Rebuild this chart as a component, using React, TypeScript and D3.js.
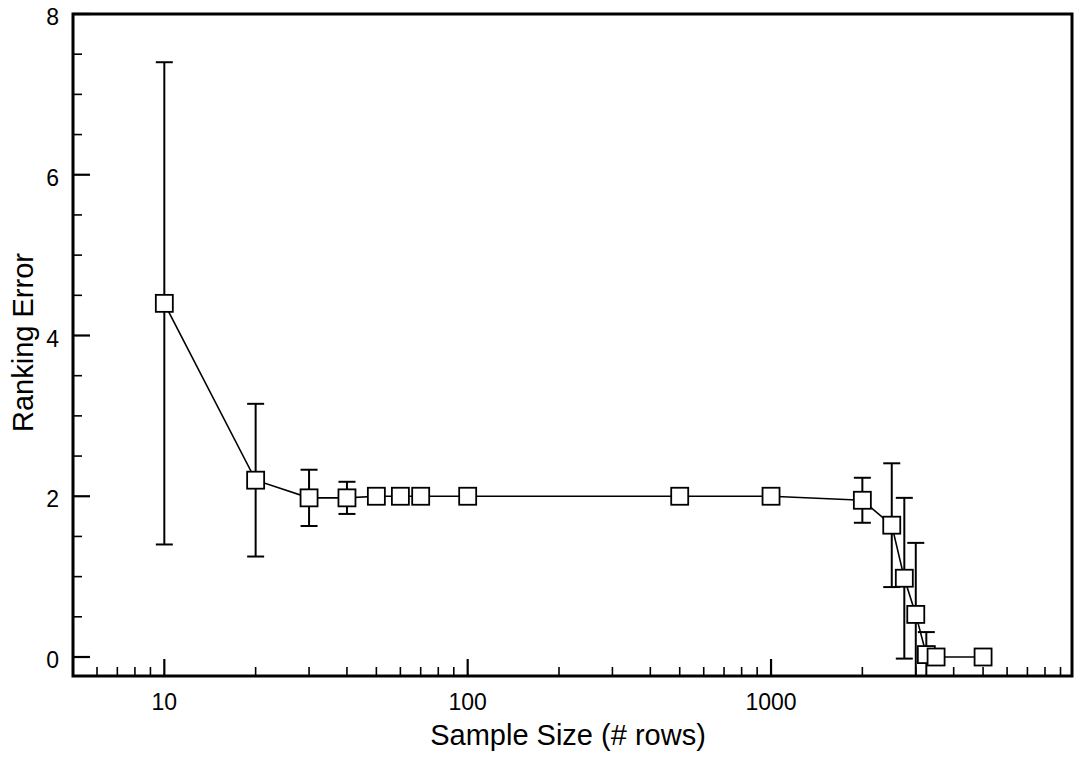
import React from "react";
import * as d3 from "d3";

const sampleSizes = [10, 20, 30, 40, 50, 60, 70, 100, 500, 1000, 2000, 2500, 2750, 3000, 3250, 3500, 5000];
const rankingError = [4.4, 2.2, 1.98, 1.98, 2.0, 2.0, 2.0, 2.0, 2.0, 2.0, 1.95, 1.64, 0.98, 0.53, 0.03, 0.0, 0.0];
const errorHalf = [3.0, 0.95, 0.35, 0.2, 0, 0, 0, 0, 0, 0, 0.28, 0.77, 1.0, 0.89, 0.28, 0, 0];
const xMajorTicks = [10, 100, 1000];
const yMajorTicks = [0, 2, 4, 6, 8];
const xDomain = [5, 9820];
const yDomain = [0, 8];

const W = 1079;
const H = 757;
const left = 73, right = 1072, top = 14, bottom = 676;
const FONT = "'Liberation Sans', Arial, Helvetica, sans-serif";

export default function App() {
  const x = d3.scaleLog().domain(xDomain).range([left, right]);
  const y = d3.scaleLinear().domain(yDomain).range([657, 14]);

  const xMinor: number[] = [];
  for (let dec = 1; dec <= 1000; dec *= 10) {
    for (let k = 1; k <= 9; k++) {
      const v = k * dec;
      if (v > xDomain[0] && v < xDomain[1] && !xMajorTicks.includes(v)) xMinor.push(v);
    }
  }
  const yMinor = d3.range(0.5, 8, 0.5).filter((v) => !yMajorTicks.includes(v));

  const pts = sampleSizes.map((s, i) => ({ s, v: rankingError[i], e: errorHalf[i] }));
  const line = d3.line<{ s: number; v: number }>().x((d) => x(d.s)).y((d) => y(d.v));
  const sq = 17;
  const cap = 17;

  return (
    <svg width={W} height={H} style={{ position: "absolute", left: 0, top: 0, background: "#fff" }}>
      <defs>
        <clipPath id="plotClip">
          <rect x={left} y={top} width={right - left} height={bottom - top} />
        </clipPath>
      </defs>
      <rect x={0} y={0} width={W} height={H} fill="#fff" />
      {/* x ticks */}
      {xMajorTicks.map((t) => (
        <line key={"xM" + t} x1={x(t)} x2={x(t)} y1={bottom} y2={bottom - 17} stroke="#000" strokeWidth={2.2} />
      ))}
      {xMinor.map((t) => (
        <line key={"xm" + t} x1={x(t)} x2={x(t)} y1={bottom} y2={bottom - 9} stroke="#000" strokeWidth={1.6} />
      ))}
      {yMajorTicks.map((t) => (
        <line key={"yM" + t} x1={left} x2={left + 17} y1={y(t)} y2={y(t)} stroke="#000" strokeWidth={2.2} />
      ))}
      {yMinor.map((t) => (
        <line key={"ym" + t} x1={left} x2={left + 9} y1={y(t)} y2={y(t)} stroke="#000" strokeWidth={1.6} />
      ))}
      {/* tick labels */}
      {xMajorTicks.map((t) => (
        <text key={"xl" + t} x={x(t)} y={709.5} textAnchor="middle" fontFamily={FONT} fontSize={23} fill="#000">
          {t}
        </text>
      ))}
      {yMajorTicks.map((t) => (
        <text key={"yl" + t} x={59} y={y(t) + 11} textAnchor="end" fontFamily={FONT} fontSize={23} fill="#000">
          {t}
        </text>
      ))}
      {/* data */}
      <g clipPath="url(#plotClip)">
        {pts.filter((d) => d.e > 0).map((d) => {
          const cx = x(d.s);
          const y1 = y(d.v + d.e);
          const y2 = y(d.v - d.e);
          return (
            <g key={"e" + d.s} stroke="#000" strokeWidth={2}>
              <line x1={cx} x2={cx} y1={y1} y2={y2} />
              <line x1={cx - cap / 2} x2={cx + cap / 2} y1={y1} y2={y1} />
              <line x1={cx - cap / 2} x2={cx + cap / 2} y1={y2} y2={y2} />
            </g>
          );
        })}
        <path d={line(pts) || ""} fill="none" stroke="#000" strokeWidth={1.6} />
        {pts.map((d) => (
          <rect
            key={"p" + d.s}
            x={x(d.s) - sq / 2}
            y={y(d.v) - sq / 2}
            width={sq}
            height={sq}
            fill="#fff"
            stroke="#000"
            strokeWidth={1.8}
          />
        ))}
      </g>
      {/* frame */}
      <rect x={left} y={top} width={right - left} height={bottom - top} fill="none" stroke="#000" strokeWidth={3} />
      {/* titles */}
      <text x={568} y={745} textAnchor="middle" fontFamily={FONT} fontSize={29} fill="#000">
        Sample Size (# rows)
      </text>
      <text
        transform={`translate(33.3, 342.5) rotate(-90)`}
        textAnchor="middle"
        fontFamily={FONT}
        fontSize={29}
        fill="#000"
      >
        Ranking Error
      </text>
    </svg>
  );
}
